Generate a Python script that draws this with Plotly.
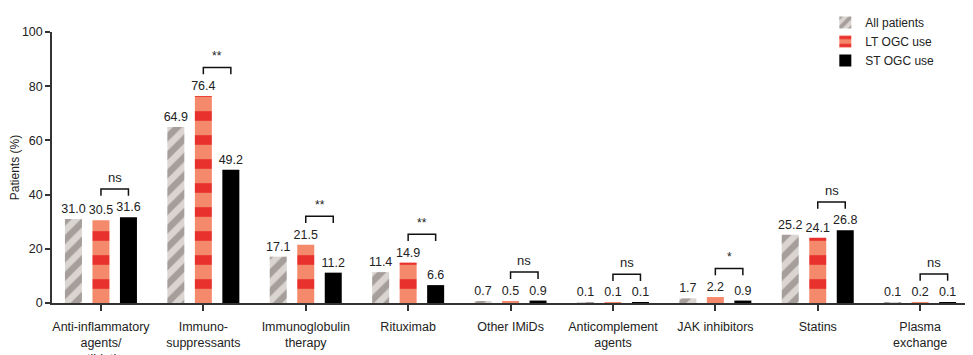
import plotly.graph_objects as go

categories = ["Anti-inflammatory<br>agents/<br>antibiotics", "Immuno-<br>suppressants",
              "Immunoglobulin<br>therapy", "Rituximab", "Other IMiDs",
              "Anticomplement<br>agents", "JAK inhibitors", "Statins", "Plasma<br>exchange"]
all_patients = [31.0, 64.9, 17.1, 11.4, 0.7, 0.1, 1.7, 25.2, 0.1]
lt_ogc = [30.5, 76.4, 21.5, 14.9, 0.5, 0.1, 2.2, 24.1, 0.2]
st_ogc = [31.6, 49.2, 11.2, 6.6, 0.9, 0.1, 0.9, 26.8, 0.1]
significance = ["ns", "**", "**", "**", "ns", "ns", "*", "ns", "ns"]
y_ticks = [0, 20, 40, 60, 80, 100]

FONT = "Liberation Sans, Arial, sans-serif"
TXT = "#222222"
xs = list(range(len(categories)))
W = 0.166
SHIFT = 0.2686

fig = go.Figure()
specs = [
    ("All patients", all_patients, -SHIFT,
     dict(color="#d9d4d0", pattern=dict(shape="/", bgcolor="#dad5d1", fgcolor="#a69e9a",
                                        size=13, solidity=0.5, fillmode="replace"))),
    ("LT OGC use", lt_ogc, 0.0,
     dict(color="#f4876b", pattern=dict(shape="-", bgcolor="#f5896c", fgcolor="#e8302c",
                                        size=24, solidity=0.4, fillmode="replace"))),
    ("ST OGC use", st_ogc, SHIFT, dict(color="#000000")),
]
for name, vals, sh, marker in specs:
    fig.add_trace(go.Bar(
        x=xs, y=vals, name=name, width=W, offset=sh - W / 2,
        marker=dict(line=dict(width=0), **marker),
        text=[f"{v:.1f}" for v in vals], textposition="outside",
        constraintext="none", cliponaxis=False,
        textfont=dict(family=FONT, size=12.5, color=TXT),
    ))

for i, s in enumerate(significance):
    x1 = xs[i]
    x2 = xs[i] + SHIFT
    top = max(lt_ogc[i], st_ogc[i]) + 10.5
    fig.add_shape(type="path",
                  path=f"M {x1},{top - 2.5} L {x1},{top} L {x2},{top} L {x2},{top - 2.5}",
                  xref="x", yref="y", line=dict(color="#111111", width=1.5))
    fig.add_annotation(x=(x1 + x2) / 2, y=top + 0.8, text=s, showarrow=False,
                       xref="x", yref="y", yanchor="bottom",
                       font=dict(family=FONT, size=13 if s == "ns" else 12, color=TXT))

fig.update_layout(
    width=973, height=355,
    margin=dict(l=44, r=16, t=24, b=60, autoexpand=False),
    plot_bgcolor="white", paper_bgcolor="white",
    barmode="overlay",
    font=dict(family=FONT, size=12.5, color=TXT),
    showlegend=True,
    legend=dict(xref="container", yref="container", x=0.84, y=1.012,
                xanchor="left", yanchor="top",
                font=dict(family=FONT, size=12, color=TXT),
                bgcolor="rgba(0,0,0,0)", tracegroupgap=0, itemwidth=30),
    xaxis=dict(range=[-0.478, 8.438], tickvals=xs, ticktext=categories,
               automargin=False, ticklabelstandoff=5,
               showline=True, linecolor="#333333", linewidth=1.5,
               ticks="outside", ticklen=6, tickcolor="#333333", tickwidth=1.5,
               showgrid=False, zeroline=False,
               tickfont=dict(family=FONT, size=12.5, color=TXT)),
    yaxis=dict(range=[0, 100], tickvals=y_ticks, automargin=False,
               showline=True, linecolor="#333333", linewidth=1.5,
               ticks="outside", ticklen=5, tickcolor="#333333", tickwidth=1.5,
               showgrid=False, zeroline=False,
               tickfont=dict(family=FONT, size=12.5, color=TXT),
               title=dict(text="Patients (%)", standoff=8,
                          font=dict(family=FONT, size=12, color=TXT))),
)

fig.write_html("out.html")
